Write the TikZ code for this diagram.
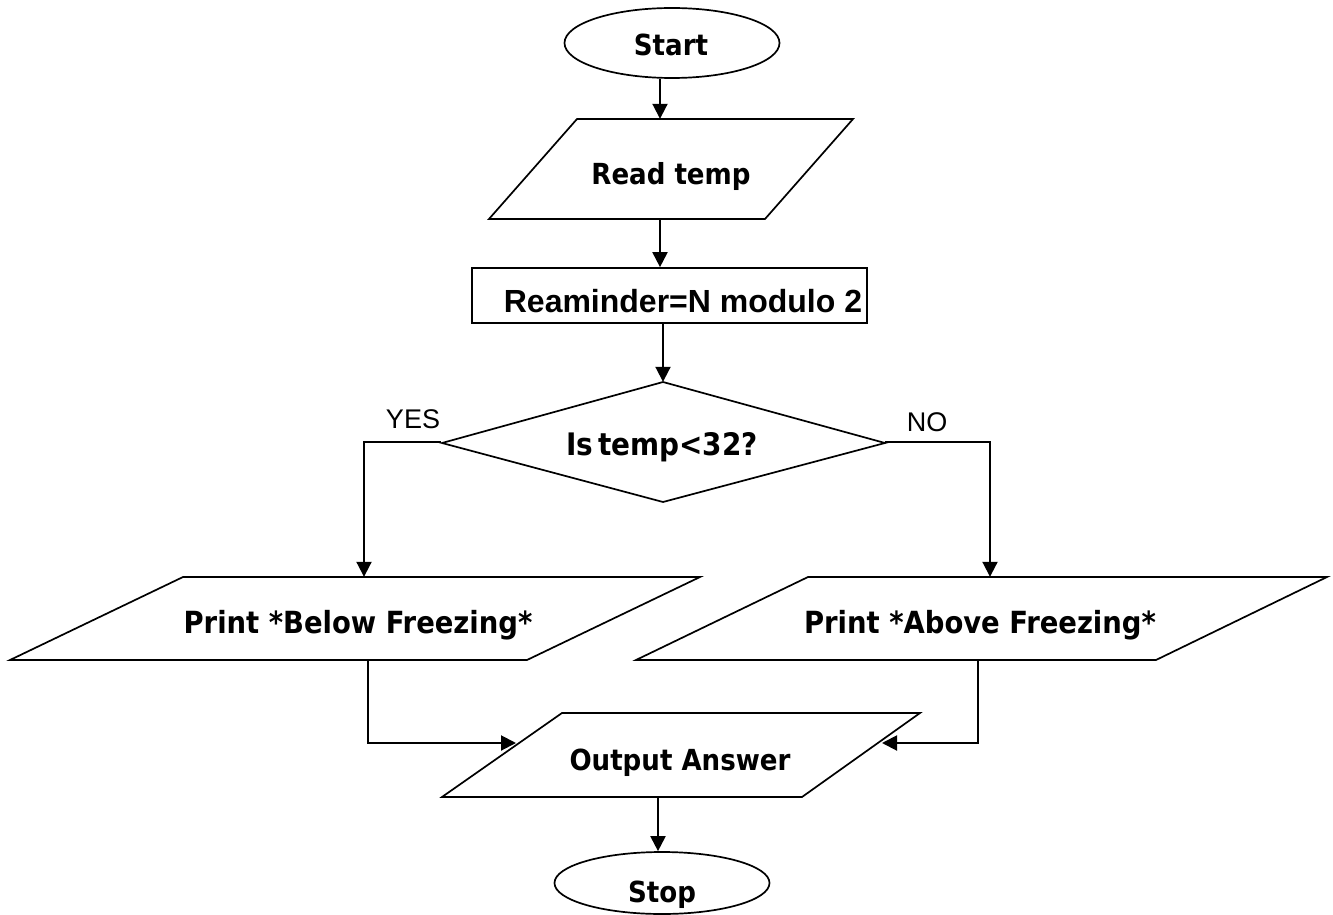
\documentclass[tikz,border=0pt]{standalone}
\usepackage{fontspec}
\setmainfont{DejaVu Sans Condensed}
\newfontfamily\arialfont{Liberation Sans}
\usetikzlibrary{arrows.meta,shapes.geometric}
\begin{document}
\begin{tikzpicture}[x=1pt,y=-1pt,
  shp/.style={draw, line width=1.7pt, line join=miter},
  lbl/.style={font=\fontsize{29}{31}\selectfont\bfseries, inner sep=0pt},
  wlbl/.style={font=\fontsize{30.5}{32}\selectfont\bfseries, inner sep=0pt},
  ylbl/.style={font=\arialfont\fontsize{27}{29}\selectfont, inner sep=0pt, anchor=base},
  hold/.style={inner sep=0pt, draw=none},
  oval/.style={ellipse, draw, line width=1.7pt, inner sep=0pt},
  arr/.style={line width=2pt, -{Triangle[length=15pt,width=15pt]}},
  ]
\useasboundingbox (0,0) rectangle (1333,915);
\fill[white] (0,0) rectangle (1333,915);

% helper coordinates
\coordinate (xa) at (660,0);
\coordinate (yesc) at (364,0);
\coordinate (noc) at (990,0);
\coordinate (lc) at (368,0);
\coordinate (rc) at (978,0);
\coordinate (xd) at (658,0);
\coordinate (outL) at (516,743);
\coordinate (outR) at (882,743);

% Start
\node[oval, minimum width=215pt, minimum height=70pt] (start) at (672,43) {};
\node[lbl, anchor=base] (startt) at (671,56) {Start};

% Read temp
\node[hold, minimum width=276pt, minimum height=100pt] (read) at (671,169) {};
\draw[shp] (577,119) -- (853,119) -- (765,219) -- (489,219) -- cycle;
\node[lbl, anchor=base] (readt) at (671,184) {Read temp};

% Remainder box
\node[draw, line width=1.7pt, minimum width=395pt, minimum height=55pt, inner sep=0pt] (rem) at (669.5,295.5) {};
\node[font=\arialfont\bfseries\fontsize{32}{34}\selectfont, anchor=base, inner sep=0pt] (remt) at (683,312) {Reaminder=N modulo 2};

% Decision
\node[hold, minimum width=443pt, minimum height=120pt] (dec) at (663,442) {};
\draw[shp] (663,382) -- (885,443) -- (663,502) -- (442,443) -- cycle;
\node[font=\fontsize{31}{33}\selectfont\bfseries, inner sep=0pt, anchor=base] (dect) at (662,455) {Is\,temp<32?};

\node[ylbl] (yes) at (413,428) {YES};
\node[ylbl] (no) at (927,431) {NO};

% Below freezing
\node[hold, minimum width=517pt, minimum height=83pt] (below) at (355,618.5) {};
\draw[shp] (183,577) -- (700,577) -- (527,660) -- (10,660) -- cycle;
\node[wlbl, anchor=base] (belowt) at (358,633) {Print *Below Freezing*};

% Above freezing
\node[hold, minimum width=519pt, minimum height=83pt] (above) at (982,618.5) {};
\draw[shp] (808,577) -- (1327,577) -- (1156,660) -- (636,660) -- cycle;
\node[wlbl, anchor=base] (abovet) at (980,633) {Print *Above Freezing*};

% Output
\node[hold, minimum width=360pt, minimum height=84pt] (out) at (681,755) {};
\draw[shp] (562,713) -- (920,713) -- (802,797) -- (442,797) -- cycle;
\node[lbl, anchor=base] (outt) at (680,770) {Output Answer};

% Stop
\node[oval, minimum width=215pt, minimum height=62pt] (stop) at (662,883) {};
\node[lbl, anchor=base] (stopt) at (662,902) {Stop};

% connectors
\draw[arr] (start.south -| xa) -- (read.north -| xa);
\draw[arr] (read.south -| xa) -- (rem.north -| xa);
\draw[arr] (rem.south -| dec.north) -- (dec.north);
\draw[arr] (dec.west) -| (below.north -| yesc);
\draw[arr] (dec.east) -| (above.north -| noc);
\draw[arr] (below.south -| lc) |- (outL);
\draw[arr] (above.south -| rc) |- (outR);
\draw[arr] (out.south -| xd) -- (stop.north -| xd);
\end{tikzpicture}
\end{document}
